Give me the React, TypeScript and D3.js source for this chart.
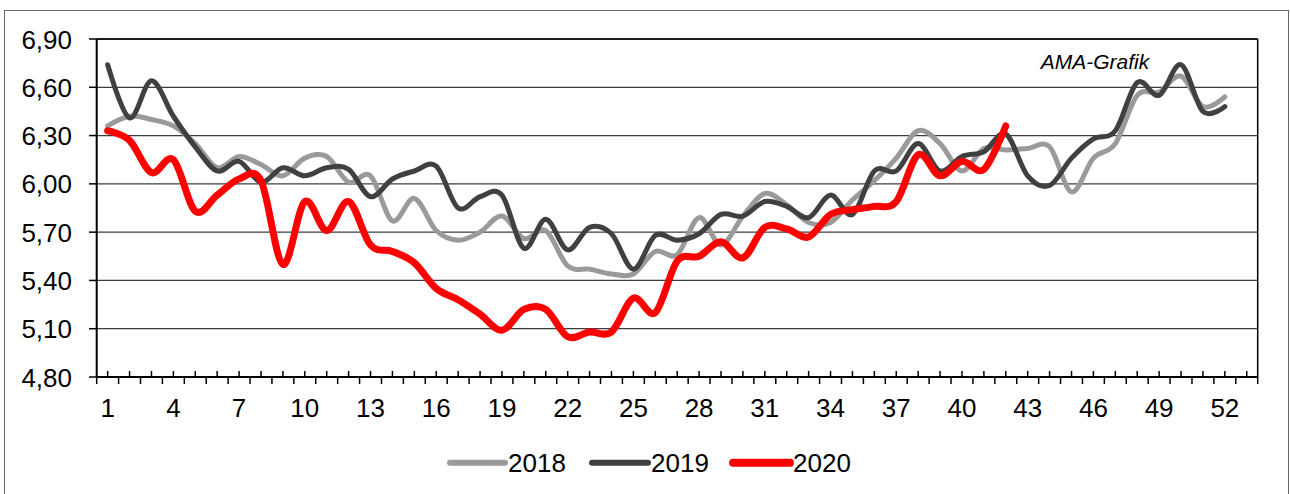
import React from 'react';
import * as d3 from 'd3';

// weekly prices
const weeks = d3.range(1, 53);
const slots = d3.range(1, 54); // Excel leaves room for week 53
const tickWeeks = [1, 4, 7, 10, 13, 16, 19, 22, 25, 28, 31, 34, 37, 40, 43, 46, 49, 52];
const yTicks = [4.8, 5.1, 5.4, 5.7, 6.0, 6.3, 6.6, 6.9];

const s2018 = [6.36, 6.42, 6.40, 6.36, 6.25, 6.10, 6.17, 6.12, 6.05, 6.16, 6.17, 6.01, 6.05, 5.77, 5.91, 5.71, 5.65, 5.70, 5.80, 5.66,
  5.71, 5.49, 5.47, 5.44, 5.44, 5.58, 5.56, 5.79, 5.62, 5.80, 5.94, 5.87, 5.76, 5.76, 5.90, 6.02, 6.16, 6.33, 6.25, 6.08,
  6.22, 6.21, 6.22, 6.23, 5.95, 6.16, 6.25, 6.55, 6.57, 6.67, 6.48, 6.54];
const s2019 = [6.74, 6.41, 6.64, 6.42, 6.23, 6.08, 6.14, 6.01, 6.10, 6.05, 6.10, 6.09, 5.92, 6.03, 6.08, 6.11, 5.85, 5.92, 5.93, 5.60,
  5.78, 5.59, 5.73, 5.69, 5.47, 5.68, 5.65, 5.69, 5.81, 5.80, 5.89, 5.86, 5.79, 5.93, 5.81, 6.08, 6.08, 6.25, 6.08, 6.17,
  6.20, 6.31, 6.05, 5.99, 6.16, 6.28, 6.33, 6.63, 6.55, 6.74, 6.45, 6.48];
const s2020 = [6.33, 6.27, 6.07, 6.15, 5.83, 5.93, 6.03, 6.02, 5.50, 5.89, 5.71, 5.89, 5.62, 5.58, 5.51, 5.35, 5.28, 5.19, 5.09, 5.22,
  5.22, 5.05, 5.08, 5.08, 5.29, 5.20, 5.52, 5.55, 5.64, 5.54, 5.73, 5.72, 5.67, 5.81, 5.84, 5.86, 5.89, 6.18, 6.05, 6.14,
  6.09, 6.36];

const series = [
  { name: '2018', values: s2018, color: '#9a9a9a', width: 5 },
  { name: '2019', values: s2019, color: '#404040', width: 5 },
  { name: '2020', values: s2020, color: '#ff0000', width: 7 },
];

const W = 1290;
const H = 494;
const left = 96.7, right = 1257.7, top = 39, bottom = 377;
const font = '"Liberation Sans", Arial, sans-serif';

const App: React.FC = () => {
  const x = d3.scaleBand<number>().domain(slots).range([left, right]).padding(0);
  const bw = x.bandwidth();
  const cx = (w: number) => (x(w) as number) + bw / 2;
  const y = d3.scaleLinear().domain([4.8, 6.9]).range([bottom, top]);
  const fmt = (v: number) => v.toFixed(2).replace('.', ',');

  const line = d3.line<number>()
    .x((_, i) => cx(weeks[i]))
    .y(d => y(d))
    .curve(d3.curveCatmullRom.alpha(0));

  const legendItems = [
    { x1: 450, x2: 505, tx: 508 },
    { x1: 592, x2: 648, tx: 651 },
    { x1: 733, x2: 790, tx: 793 },
  ];

  return (
    <svg width={W} height={H} style={{ position: 'absolute', left: 0, top: 0, display: 'block' }} fontFamily={font}>
      <rect x={0} y={0} width={W} height={H} fill="#fff" />
      <rect x={4.5} y={10.5} width={1284} height={490} fill="none" stroke="#6a6a6a" strokeWidth={1} />

      {/* gridlines + y axis */}
      {yTicks.map(t => (
        <g key={t}>
          <line x1={left} x2={right} y1={y(t)} y2={y(t)} stroke="#3c3c3c" strokeWidth={1.3} />
          <line x1={89} x2={left} y1={y(t)} y2={y(t)} stroke="#000" strokeWidth={1.5} />
          <text x={72} y={y(t) + 9.5} fontSize={26} textAnchor="end" fill="#000">{fmt(t)}</text>
        </g>
      ))}
      <line x1={left} x2={right} y1={top} y2={top} stroke="#000" strokeWidth={1.5} />
      <line x1={right} x2={right} y1={top} y2={bottom} stroke="#000" strokeWidth={1.5} />
      <line x1={left} x2={left} y1={top} y2={bottom} stroke="#000" strokeWidth={2} />

      {/* x axis */}
      <line x1={left} x2={right} y1={bottom} y2={bottom} stroke="#000" strokeWidth={2} />
      {slots.concat([54]).map(w => {
        const bx = w === 54 ? right : (x(w) as number);
        return <line key={'b' + w} x1={bx} x2={bx} y1={bottom} y2={bottom + 7} stroke="#000" strokeWidth={1.5} />;
      })}
      {slots.map(w => (
        <line key={'c' + w} x1={cx(w)} x2={cx(w)} y1={bottom - 6} y2={bottom} stroke="#000" strokeWidth={1.5} />
      ))}
      {tickWeeks.map(w => (
        <text key={'l' + w} x={cx(w)} y={416.5} fontSize={26} textAnchor="middle" fill="#000">{w}</text>
      ))}

      {/* series */}
      {series.map(s => (
        <path key={s.name} d={line(s.values) || ''} fill="none" stroke={s.color} strokeWidth={s.width}
          strokeLinejoin="round" strokeLinecap="round" />
      ))}

      <text x={1095} y={69} fontSize={21} fontStyle="italic" textAnchor="middle" fill="#000">AMA-Grafik</text>

      {/* legend */}
      {series.map((s, i) => (
        <g key={'lg' + s.name}>
          <line x1={legendItems[i].x1} x2={legendItems[i].x2} y1={462.7} y2={462.7} stroke={s.color}
            strokeWidth={s.width + 1} strokeLinecap="round" />
          <text x={legendItems[i].tx} y={471.5} fontSize={26} fill="#000">{s.name}</text>
        </g>
      ))}
    </svg>
  );
};

export default App;
